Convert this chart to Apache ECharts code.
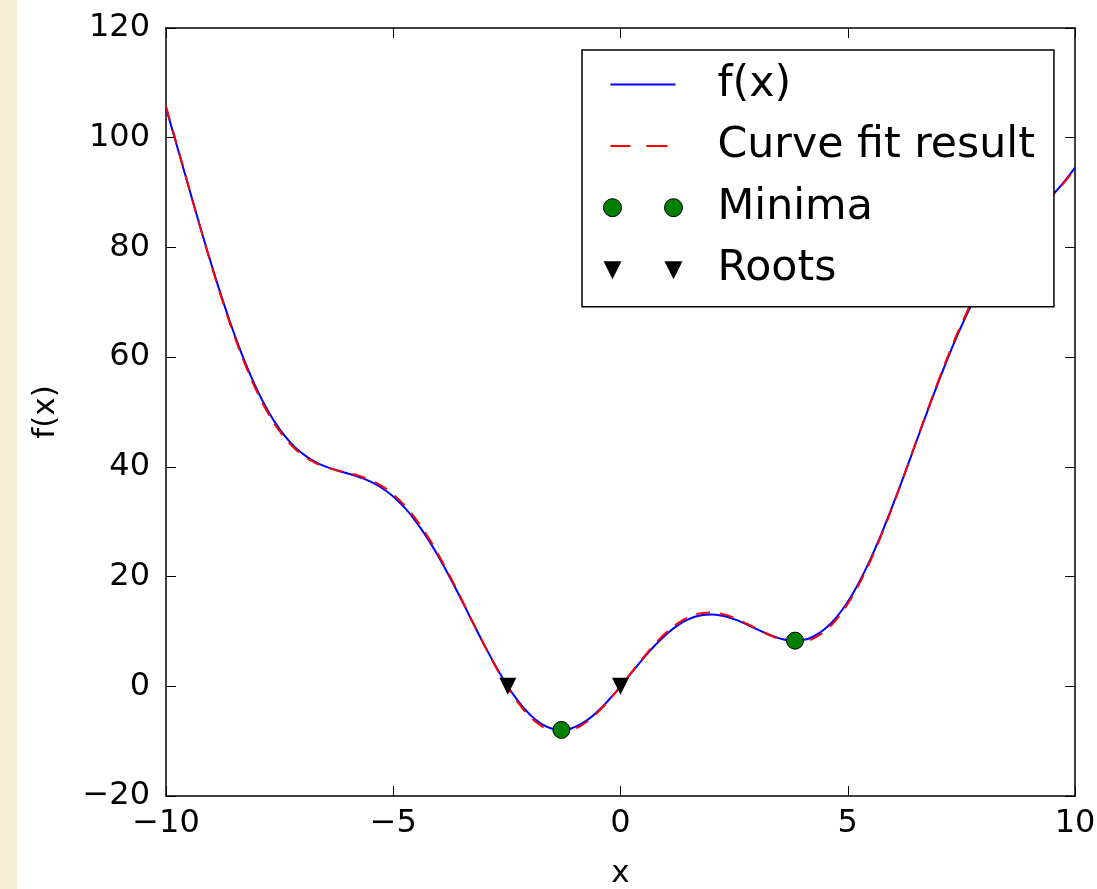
<!DOCTYPE html>
<html>
<head>
<meta charset="utf-8">
<script src="https://cdn.jsdelivr.net/npm/echarts@6/dist/echarts.min.js"></script>
<style>
  html, body { margin: 0; padding: 0; }
  #chart {
    width: 1097px;
    height: 889px;
    background: linear-gradient(to right, #f7efd4 17px, #ffffff 17px);
  }
</style>
</head>
<body>
<div id="chart"></div>
<script>
// values
const xs = [-10, -9.75, -9.5, -9.25, -9, -8.75, -8.5, -8.25, -8, -7.75, -7.5, -7.25, -7, -6.75, -6.5, -6.25,
  -6, -5.75, -5.5, -5.25, -5, -4.75, -4.5, -4.25, -4, -3.75, -3.5, -3.25, -3, -2.75, -2.5, -2.25,
  -2, -1.75, -1.5, -1.25, -1, -0.75, -0.5, -0.25, 0, 0.25, 0.5, 0.75, 1, 1.25, 1.5, 1.75,
  2, 2.25, 2.5, 2.75, 3, 3.25, 3.5, 3.75, 4, 4.25, 4.5, 4.75, 5, 5.25, 5.5, 5.75,
  6, 6.25, 6.5, 6.75, 7, 7.25, 7.5, 7.75, 8, 8.25, 8.5, 8.75, 9, 9.25, 9.5, 9.75, 10]
const fx = [105.44, 98.26, 91.00, 83.82, 76.88, 70.32, 64.27, 58.85, 54.11, 50.12, 46.87, 44.33, 42.43, 41.06, 40.10, 39.39,
  38.79, 38.15, 37.31, 36.15, 34.59, 32.56, 30.03, 27.01, 23.57, 19.78, 15.76, 11.64, 7.59, 3.75, 0.27, -2.72,
  -5.09, -6.78, -7.73, -7.93, -7.41, -6.25, -4.54, -2.41, 0, 2.54, 5.04, 7.38, 9.41, 11.05, 12.23, 12.90,
  13.09, 12.84, 12.24, 11.38, 10.41, 9.48, 8.74, 8.35, 8.43, 9.11, 10.48, 12.57, 15.41, 18.97, 23.19, 27.98,
  33.21, 38.73, 44.40, 50.06, 55.57, 60.79, 65.63, 70.01, 73.89, 77.28, 80.24, 82.81, 85.12, 87.31, 89.50, 91.87, 94.56]
const fitY = [105.66, 98.39, 91.03, 83.75, 76.71, 70.07, 63.95, 58.48, 53.71, 49.72, 46.50, 44.00, 42.17, 40.88, 40.01, 39.40,
  38.90, 38.35, 37.59, 36.49, 34.97, 32.96, 30.42, 27.37, 23.87, 20.01, 15.90, 11.68, 7.53, 3.60, 0.03, -3.03,
  -5.45, -7.17, -8.13, -8.31, -7.75, -6.52, -4.73, -2.51, 0, 2.64, 5.23, 7.65, 9.75, 11.43, 12.63, 13.29,
  13.45, 13.15, 12.48, 11.53, 10.47, 9.44, 8.60, 8.12, 8.13, 8.75, 10.09, 12.17, 15.03, 18.63, 22.91, 27.78,
  33.10, 38.72, 44.49, 50.24, 55.83, 61.12, 66.01, 70.41, 74.29, 77.65, 80.56, 83.06, 85.29, 87.38, 89.47, 91.74, 94.34]
const minima = [[-1.30, -7.95], [3.84, 8.32]]
const roots = [[-2.48, 0], [0, 0]]
const xTicks = { min: -10, max: 10, step: 5 }
const yTicks = { min: -20, max: 120, step: 20 }

const font = 'DejaVu Sans'
const minus = v => String(v).replace('-', '\u2212')

const chart = echarts.init(document.getElementById('chart'))

const tickAxis = {
  axisLine: { show: true, onZero: false, lineStyle: { color: '#000', width: 1.5 } },
  axisTick: { show: true, inside: true, length: 10, lineStyle: { color: '#000', width: 1 } },
  splitLine: { show: false }
}

const options = {
  animation: false,
  textStyle: { fontFamily: font },
  grid: { left: 166, right: 22, top: 28, bottom: 93, outerBoundsMode: 'none' },
  legend: {
    orient: 'vertical',
    left: 582,
    top: 50,
    padding: [13, 19, 16, 20],
    itemWidth: 80,
    itemHeight: 20,
    itemGap: 18.6,
    borderColor: '#000',
    borderWidth: 1.5,
    borderRadius: 0,
    backgroundColor: '#fff',
    symbolKeepAspect: true,
    textStyle: { fontFamily: font, fontSize: 42.7, color: '#000', padding: [0, 0, 0, 30] },
    data: [
      { name: 'f(x)', icon: 'path://M0,0L0,0M80,20L80,20M8,9h65v2h-65z', itemStyle: { color: '#0000ff', borderWidth: 0 } },
      { name: 'Curve fit result', icon: 'path://M0,0L0,0M80,20L80,20M8,9h20v2h-20zM44,9h21v2h-21z', itemStyle: { color: '#ff0000', borderWidth: 0 } },
      { name: 'Minima', icon: 'path://M1,10a9,9 0 1,0 18,0a9,9 0 1,0 -18,0zM62,10a9,9 0 1,0 18,0a9,9 0 1,0 -18,0zM0,0L0,0M80,20L80,20', itemStyle: { color: '#007f00', borderColor: '#000', borderWidth: 1 } },
      { name: 'Roots', icon: 'path://M1,2h18l-9,18zM62,2h18l-9,18zM0,0L0,0M80,20L80,20', itemStyle: { color: '#000', borderWidth: 0 } }
    ]
  },
  xAxis: [{
    ...tickAxis,
    type: 'value',
    min: xTicks.min, max: xTicks.max, interval: xTicks.step,
    name: 'x',
    nameLocation: 'middle',
    nameGap: 62,
    nameTextStyle: { fontFamily: font, fontSize: 31, color: '#000' },
    axisLabel: { fontFamily: font, fontSize: 32, color: '#000', margin: 12, formatter: minus }
  }, {
    ...tickAxis,
    type: 'value',
    position: 'top',
    min: xTicks.min, max: xTicks.max, interval: xTicks.step,
    axisLabel: { show: false }
  }],
  yAxis: [{
    ...tickAxis,
    type: 'value',
    min: yTicks.min, max: yTicks.max, interval: yTicks.step,
    name: 'f(x)',
    nameLocation: 'middle',
    nameGap: 105,
    nameTextStyle: { fontFamily: font, fontSize: 31, color: '#000' },
    axisLabel: { fontFamily: font, fontSize: 32, color: '#000', margin: 16, formatter: minus }
  }, {
    ...tickAxis,
    type: 'value',
    position: 'right',
    min: yTicks.min, max: yTicks.max, interval: yTicks.step,
    axisLabel: { show: false }
  }],
  series: [{
    name: 'f(x)',
    type: 'line',
    data: xs.map((x, i) => [x, fx[i]]),
    smooth: true,
    showSymbol: false,
    symbol: 'none',
    lineStyle: { color: '#0000ff', width: 2 },
    itemStyle: { color: '#0000ff' },
    z: 2
  }, {
    name: 'Curve fit result',
    type: 'line',
    data: xs.map((x, i) => [x, fitY[i]]),
    smooth: true,
    showSymbol: false,
    symbol: 'none',
    lineStyle: { color: '#ff0000', width: 2, type: [14, 10] },
    itemStyle: { color: '#ff0000' },
    z: 3
  }, {
    name: 'Minima',
    type: 'scatter',
    data: minima,
    symbol: 'circle',
    symbolSize: 17,
    itemStyle: { color: '#007f00', borderColor: '#000', borderWidth: 1, opacity: 1 },
    z: 4
  }, {
    name: 'Roots',
    type: 'scatter',
    data: roots,
    symbol: 'triangle',
    symbolRotate: 180,
    symbolSize: 17,
    itemStyle: { color: '#000', opacity: 1 },
    z: 4
  }]
}

chart.setOption(options)
</script>
</body>
</html>
